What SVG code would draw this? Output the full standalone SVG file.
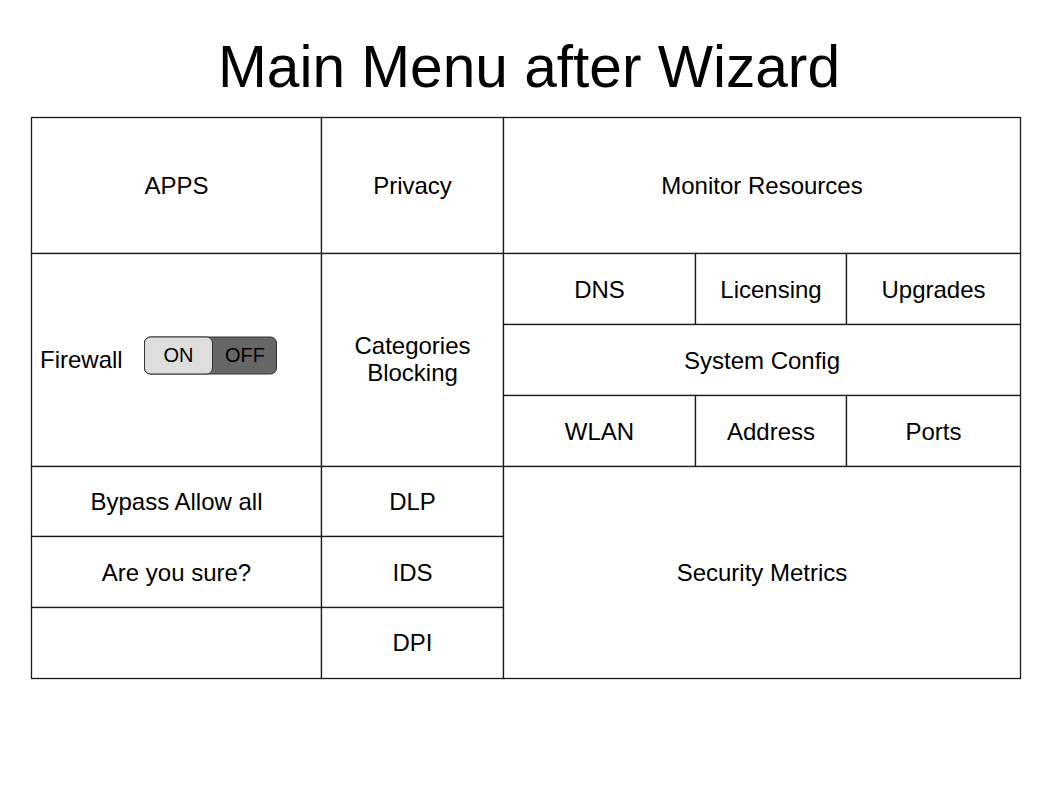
<svg xmlns="http://www.w3.org/2000/svg" width="1058" height="794" viewBox="0 0 1058 794">
<style>
.c{fill:#fff;stroke:#1a1a1a;stroke-width:1.3}
.t{font-family:"Liberation Sans",Arial,sans-serif;font-size:24px;fill:#000;text-anchor:middle}
.s{font-family:"Liberation Sans",Arial,sans-serif;font-size:20px;fill:#000;text-anchor:middle}
</style>
<rect width="1058" height="794" fill="#fff"/>
<text x="529" y="87" font-family="Liberation Sans,Arial,sans-serif" font-size="58.6" text-anchor="middle">Main Menu after Wizard</text>
<g id="apps"><rect class="c" x="31.5" y="117.5" width="290" height="136"/><text class="t" x="176.5" y="194">APPS</text></g>
<g id="privacy"><rect class="c" x="321.5" y="117.5" width="182" height="136"/><text class="t" x="412.5" y="194">Privacy</text></g>
<g id="monitor"><rect class="c" x="503.5" y="117.5" width="517" height="136"/><text class="t" x="762" y="194">Monitor Resources</text></g>
<g id="firewall"><rect class="c" x="31.5" y="253.5" width="290" height="213"/><text class="t" x="40" y="368" style="text-anchor:start">Firewall</text>
<g id="toggle"><rect x="144.5" y="337" width="132" height="37" rx="6" fill="#666" stroke="#333" stroke-width="1"/><rect x="144.5" y="337" width="68" height="37" rx="6" fill="#ddd" stroke="#333" stroke-width="1"/><text class="s" x="178.5" y="362">ON</text><text class="s" x="245" y="362">OFF</text></g></g>
<g id="categories"><rect class="c" x="321.5" y="253.5" width="182" height="213"/><text class="t" x="412.5" y="354">Categories</text><text class="t" x="412.5" y="381">Blocking</text></g>
<g id="dns"><rect class="c" x="503.5" y="253.5" width="192" height="71"/><text class="t" x="599.5" y="298">DNS</text></g>
<g id="licensing"><rect class="c" x="695.5" y="253.5" width="151" height="71"/><text class="t" x="771" y="298">Licensing</text></g>
<g id="upgrades"><rect class="c" x="846.5" y="253.5" width="174" height="71"/><text class="t" x="933.5" y="298">Upgrades</text></g>
<g id="sysconfig"><rect class="c" x="503.5" y="324.5" width="517" height="71"/><text class="t" x="762" y="369">System Config</text></g>
<g id="wlan"><rect class="c" x="503.5" y="395.5" width="192" height="71"/><text class="t" x="599.5" y="440">WLAN</text></g>
<g id="address"><rect class="c" x="695.5" y="395.5" width="151" height="71"/><text class="t" x="771" y="440">Address</text></g>
<g id="ports"><rect class="c" x="846.5" y="395.5" width="174" height="71"/><text class="t" x="933.5" y="440">Ports</text></g>
<g id="bypass"><rect class="c" x="31.5" y="466.5" width="290" height="70"/><text class="t" x="176.5" y="510">Bypass Allow all</text></g>
<g id="sure"><rect class="c" x="31.5" y="536.5" width="290" height="71"/><text class="t" x="176.5" y="581">Are you sure?</text></g>
<g id="empty"><rect class="c" x="31.5" y="607.5" width="290" height="71"/></g>
<g id="dlp"><rect class="c" x="321.5" y="466.5" width="182" height="70"/><text class="t" x="412.5" y="510">DLP</text></g>
<g id="ids"><rect class="c" x="321.5" y="536.5" width="182" height="71"/><text class="t" x="412.5" y="581">IDS</text></g>
<g id="dpi"><rect class="c" x="321.5" y="607.5" width="182" height="71"/><text class="t" x="412.5" y="651">DPI</text></g>
<g id="security"><rect class="c" x="503.5" y="466.5" width="517" height="212"/><text class="t" x="762" y="581">Security Metrics</text></g>
<g id="connectors"></g>
</svg>
